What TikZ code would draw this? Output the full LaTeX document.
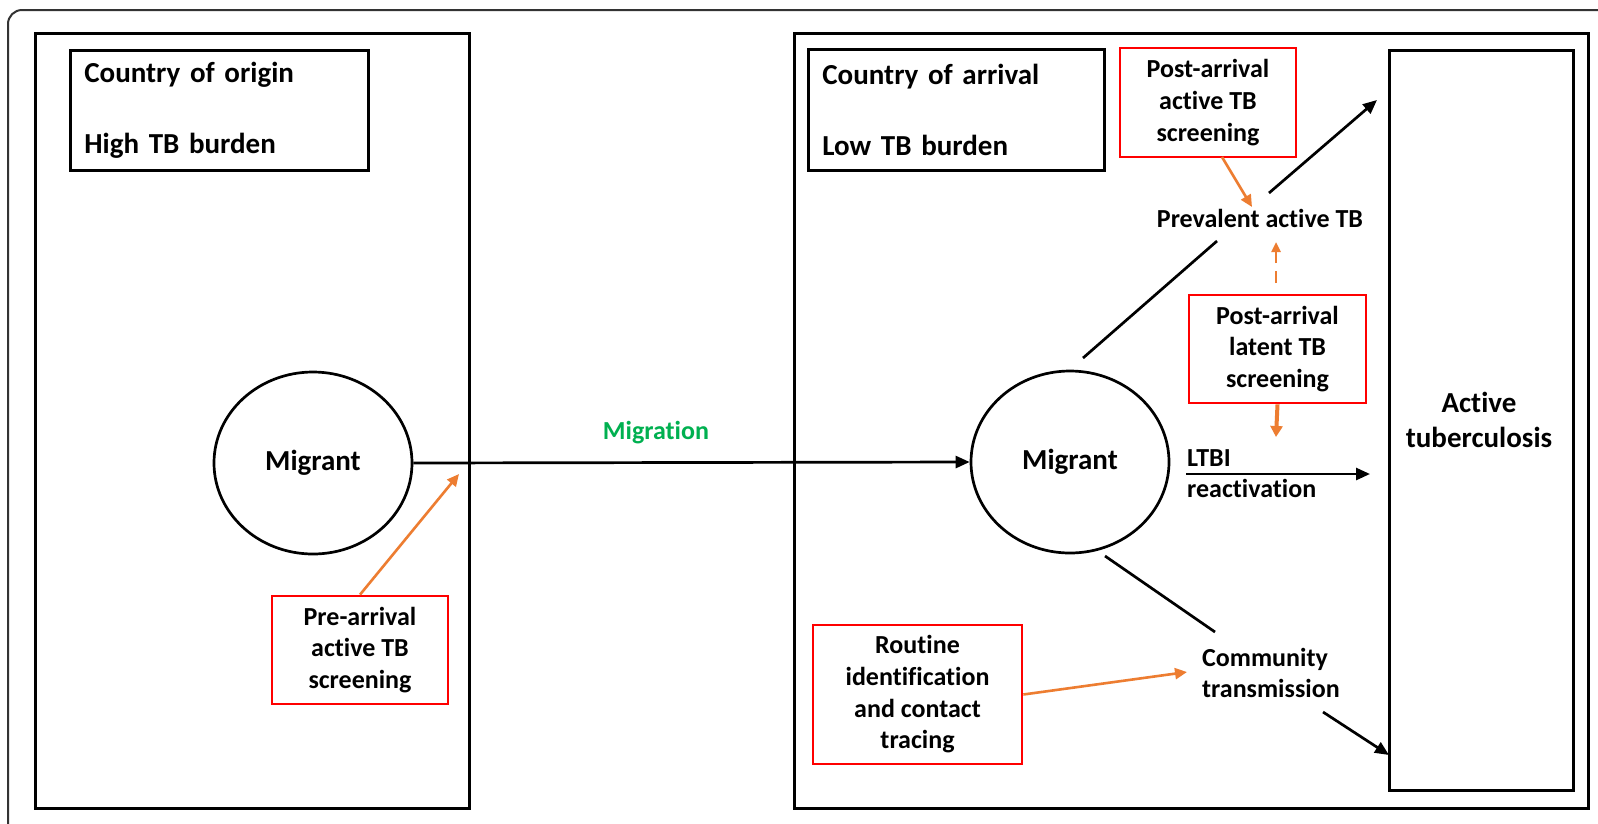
\documentclass[tikz,border=0pt]{standalone}
\usepackage{fontspec}
\setmainfont{Carlito}[Ligatures=NoCommon]
\usetikzlibrary{arrows.meta,shapes.geometric,calc}
\definecolor{orangeC}{RGB}{237,125,49}
\definecolor{greenC}{RGB}{0,176,80}
\definecolor{redC}{RGB}{255,0,0}
\newcommand\fsmall{\fontsize{26}{31.7}\selectfont\bfseries}
\newcommand\flarge{\fontsize{29}{35}\selectfont\bfseries}
\tikzset{
  panel/.style={draw=black, line width=3pt, anchor=north west, inner sep=0pt},
  titlebox/.style={draw=black, line width=2.7pt, anchor=north west, inner xsep=14pt, inner ysep=0pt, align=left, font=\flarge},
  redbox/.style={draw=redC, line width=2.7pt, inner sep=0pt, align=center, font=\fsmall},
  migr/.style={draw=black, line width=2.7pt, ellipse, minimum width=198pt, minimum height=182pt, font=\flarge},
  lbl/.style={inner sep=0pt, font=\fsmall},
  blk/.style={draw=black, line width=2.7pt, -{Triangle[length=14pt,width=12pt]}},
  blkline/.style={draw=black, line width=2.7pt},
  org/.style={draw=orangeC, line width=2.6pt, -{Triangle[length=12pt,width=11pt]}},
}
\begin{document}
\begin{tikzpicture}[x=1pt,y=-1pt]
\useasboundingbox (0,0) rectangle (1598,823);
\fill[white] (0,0) rectangle (1598,823);
\begin{scope}
\clip (0,0) rectangle (1598,823);
\draw[line width=2pt, draw=black!80, rounded corners=14pt] (8,10) rectangle (1660,880);
\end{scope}

% panels
\node[panel, minimum width=434pt, minimum height=775pt] (leftpanel) at (34,32) {};
\node[panel, line width=2.7pt, minimum width=794pt, minimum height=775pt] (rightpanel) at (793,32) {};

% title boxes
\node[titlebox, text width=270pt, minimum height=120pt] (origin) at (69,49) {Country of origin\\[36pt]High TB burden};
\node[titlebox, text width=268pt, minimum height=121pt] (arrival) at (807,48) {Country of arrival\\[36pt]Low TB burden};

% active TB box
\node[draw=black, line width=3.2pt, anchor=north west, minimum width=184pt, minimum height=740pt, inner sep=0pt] (active) at (1388,49) {};
\node[inner sep=0pt, align=center, font=\flarge] (activetxt) at (1479,420) {Active\\tuberculosis};

% migrants
\node[migr] (m1) at (313,463) {Migrant};
\node[migr] (m2) at (1070,462) {Migrant};

% red boxes
\node[redbox, minimum width=176pt, minimum height=108pt] (pre) at (360,650) {Pre-arrival\\active TB\\screening};
\node[redbox, minimum width=176pt, minimum height=109pt] (postA) at (1208,102.5) {Post-arrival\\active TB\\screening};
\node[redbox, minimum width=177pt, minimum height=108pt] (latent) at (1277.5,349) {Post-arrival\\latent TB\\screening};
\node[redbox, minimum width=209pt, minimum height=139pt] (routine) at (917.5,694.5) {Routine\\identification\\and contact\\tracing};

% labels
\node[lbl, text=greenC] (migration) at (656,433) {Migration};
\node[lbl] (prev) at (1260,218) {Prevalent active TB};
\node[lbl, anchor=west] (ltbi) at (1187,458) {LTBI};
\node[lbl, anchor=west] (react) at (1187,488) {reactivation};
\node[lbl, anchor=west, align=left] (comm) at (1202,673) {Community\\transmission};

% coordinates
\coordinate (preTip) at (459,474);
\coordinate (p1) at (1083,358);
\coordinate (p2) at (1217,241);
\coordinate (p3) at (1269,193);
\coordinate (p4) at (1377,100);
\coordinate (oA1) at (1222,157);
\coordinate (oA2) at (1252,207);
\coordinate (dash1) at (1276,283);
\coordinate (dash2) at (1276,242);
\coordinate (lat2) at (1276,437);
\coordinate (l1) at (1186,474);
\coordinate (l2) at (1370,474);
\coordinate (c1) at (1105,556);
\coordinate (c2) at (1215,632);
\coordinate (c3) at (1323,712);
\coordinate (c4) at (1389,755);
\coordinate (rTip) at (1187,672);

% connectors
\draw[blk] (m1.east) -- (m2.west);
\draw[org] (pre.north) -- (preTip);
\draw[blkline] (p1) -- (p2);
\draw[blk] (p3) -- (p4);
\draw[org] (oA1) -- (oA2);
\draw[draw=orangeC, line width=2.4pt, dash pattern=on 12pt off 8pt, -{Triangle[length=10pt,width=9pt]}] (dash1) -- (dash2);
\draw[draw=orangeC, line width=4pt, -{Triangle[length=11pt,width=12pt]}] (latent.south) -- (lat2);
\draw[blk] (l1) -- (l2);
\draw[blkline] (c1) -- (c2);
\draw[blk] (c3) -- (c4);
\draw[org] (routine.east) -- (rTip);
\end{tikzpicture}
\end{document}
